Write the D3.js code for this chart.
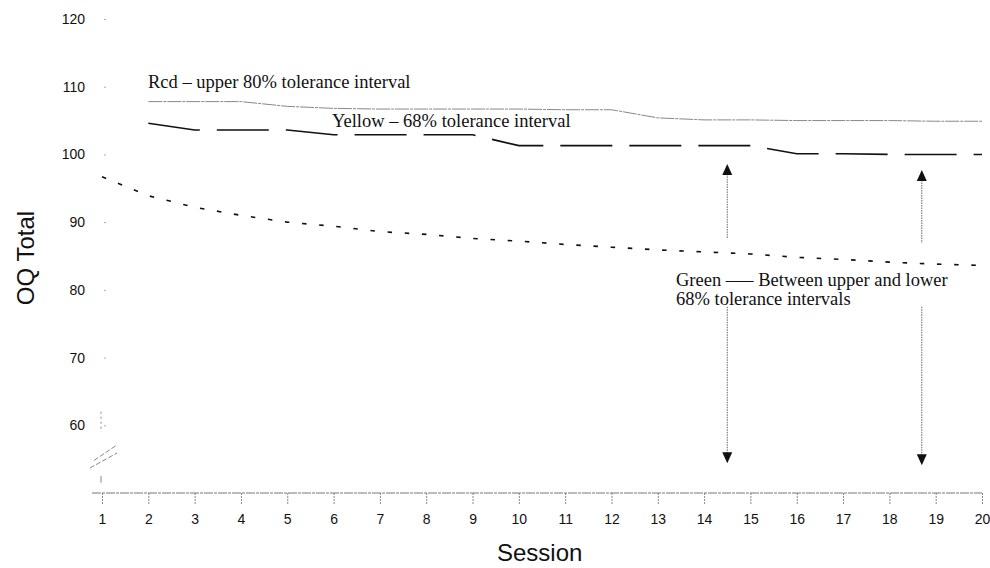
<!DOCTYPE html>
<html>
<head>
<meta charset="utf-8">
<script src="https://cdn.jsdelivr.net/npm/d3@7"></script>
<style>
  html, body { margin: 0; padding: 0; background: #fff; }
  svg { display: block; }
</style>
</head>
<body>
<svg id="chart" width="990" height="568"></svg>
<script>
// ---- data ----
const sessions = d3.range(1, 21);
const yTicks = [60, 70, 80, 90, 100, 110, 120];
const redUpper80 = [null, 107.8, 107.8, 107.8, 107.1, 106.8, 106.7, 106.7, 106.7, 106.7, 106.6, 106.6, 105.4, 105.1, 105.1, 105.0, 105.0, 105.0, 104.9, 104.9];
const yellow68 = [null, 104.6, 103.6, 103.6, 103.6, 102.9, 102.9, 102.9, 102.9, 101.3, 101.3, 101.3, 101.3, 101.3, 101.3, 100.1, 100.1, 100.0, 100.0, 100.0];
const greenLower = [96.7, 93.9, 92.2, 91.0, 90.0, 89.4, 88.6, 88.2, 87.6, 87.2, 86.7, 86.3, 85.9, 85.6, 85.3, 84.8, 84.5, 84.1, 83.8, 83.6];
const arrowSessions = [14.5, 18.7];
const arrowUpper = [[98.6, 87.6], [97.7, 86.9]];   // [tip, tail] in OQ units
const arrowLower = [[77.5, 54.4], [77.5, 54.1]];   // [tail, tip]
const annotations = [
  "Rcd – upper 80% tolerance interval",
  "Yellow – 68% tolerance interval",
  "Green –— Between upper and lower",
  "68% tolerance intervals"
];

// ---- layout ----
const svg = d3.select("#chart");
const x = d3.scaleLinear().domain([1, 20]).range([102, 982]);
const y = d3.scaleLinear().domain([50, 120]).range([493, 19]);
const sans = "'Liberation Sans', Arial, sans-serif";
const serif = "'Liberation Serif', 'Times New Roman', serif";

// x axis
const xAxis = svg.append("g").attr("transform", `translate(0,${y(50)})`)
  .call(d3.axisBottom(x).tickValues(sessions).tickFormat(d3.format("d")).tickSize(12).tickPadding(9));
xAxis.select(".domain").remove();
xAxis.selectAll(".tick line").attr("stroke", "#888").attr("stroke-dasharray", "2,1");
xAxis.selectAll(".tick text").attr("font-family", sans).attr("font-size", 14).attr("fill", "#111");
svg.append("line").attr("x1", 92).attr("x2", x(20)).attr("y1", y(50)).attr("y2", y(50))
  .attr("stroke", "#777").attr("stroke-width", 1).attr("stroke-dasharray", "9,1,3,1");

// y axis
const yAxis = svg.append("g").attr("transform", `translate(106,0)`)
  .call(d3.axisLeft(y).tickValues(yTicks).tickSize(2).tickPadding(19));
yAxis.select(".domain").remove();
yAxis.selectAll(".tick line").attr("stroke", "#aaa");
yAxis.selectAll(".tick text").attr("font-family", sans).attr("font-size", 14).attr("fill", "#111");

// axis break marks
const brk = svg.append("g").attr("stroke", "#888").attr("stroke-width", 1).attr("fill", "none");
brk.append("line").attr("x1", 101).attr("x2", 101).attr("y1", y(62)).attr("y2", y(59)).attr("stroke-dasharray", "2,3");
brk.append("line").attr("x1", 90).attr("y1", y(53.7)).attr("x2", 117).attr("y2", y(55.9)).attr("stroke-dasharray", "5,2");
brk.append("line").attr("x1", 94).attr("y1", y(54.8)).attr("x2", 117).attr("y2", y(57.1)).attr("stroke-dasharray", "5,2");
brk.append("line").attr("x1", 101).attr("x2", 101).attr("y1", y(52.5)).attr("y2", y(51.5));

// axis titles
svg.append("text").attr("x", x(10.45)).attr("y", 561).attr("text-anchor", "middle")
  .attr("font-family", sans).attr("font-size", 24).attr("fill", "#111").text("Session");
svg.append("text").attr("transform", `translate(34,${y(84.7)}) rotate(-90)`).attr("text-anchor", "middle")
  .attr("font-family", sans).attr("font-size", 24).attr("fill", "#111").text("OQ Total");

// lines
const line = d3.line().defined(d => d[1] != null).x(d => x(d[0])).y(d => y(d[1]));
const pts = arr => sessions.map((s, i) => [s, arr[i]]);

svg.append("path").datum(pts(redUpper80)).attr("d", line).attr("fill", "none")
  .attr("stroke", "#888").attr("stroke-width", 1).attr("stroke-dasharray", "14,1,3,1");
svg.append("path").datum(pts(yellow68)).attr("d", line).attr("fill", "none")
  .attr("stroke", "#111").attr("stroke-width", 1.6).attr("stroke-dasharray", "52,17");
svg.append("path").datum(pts(greenLower)).attr("d", line).attr("fill", "none")
  .attr("stroke", "#111").attr("stroke-width", 1.6).attr("stroke-dasharray", "4.5,12.7");

// arrows
const arrows = svg.append("g");
function head(cx, tipY, dir) {
  const h = 11, w = 5;
  const by = tipY + dir * h;
  arrows.append("path").attr("d", `M${cx},${tipY}L${cx - w},${by}L${cx + w},${by}Z`).attr("fill", "#111");
}
arrowSessions.forEach((s, i) => {
  const cx = x(s);
  const [uTip, uTail] = arrowUpper[i];
  arrows.append("line").attr("x1", cx).attr("x2", cx).attr("y1", y(uTip) + 10).attr("y2", y(uTail))
    .attr("stroke", "#666").attr("stroke-width", 1).attr("stroke-dasharray", "1.5,1");
  head(cx, y(uTip), 1);
  const [lTail, lTip] = arrowLower[i];
  arrows.append("line").attr("x1", cx).attr("x2", cx).attr("y1", y(lTail)).attr("y2", y(lTip) - 10)
    .attr("stroke", "#666").attr("stroke-width", 1).attr("stroke-dasharray", "1.5,1");
  head(cx, y(lTip), -1);
});

// annotations
const ann = svg.append("g").attr("font-family", serif).attr("font-size", 18.5).attr("fill", "#111");
ann.append("text").attr("x", 148).attr("y", 88).text(annotations[0]);
ann.append("text").attr("x", 332).attr("y", 127).text(annotations[1]);
ann.append("text").attr("x", 676).attr("y", 286).text(annotations[2]);
ann.append("text").attr("x", 676).attr("y", 305).text(annotations[3]);
</script>
</body>
</html>
